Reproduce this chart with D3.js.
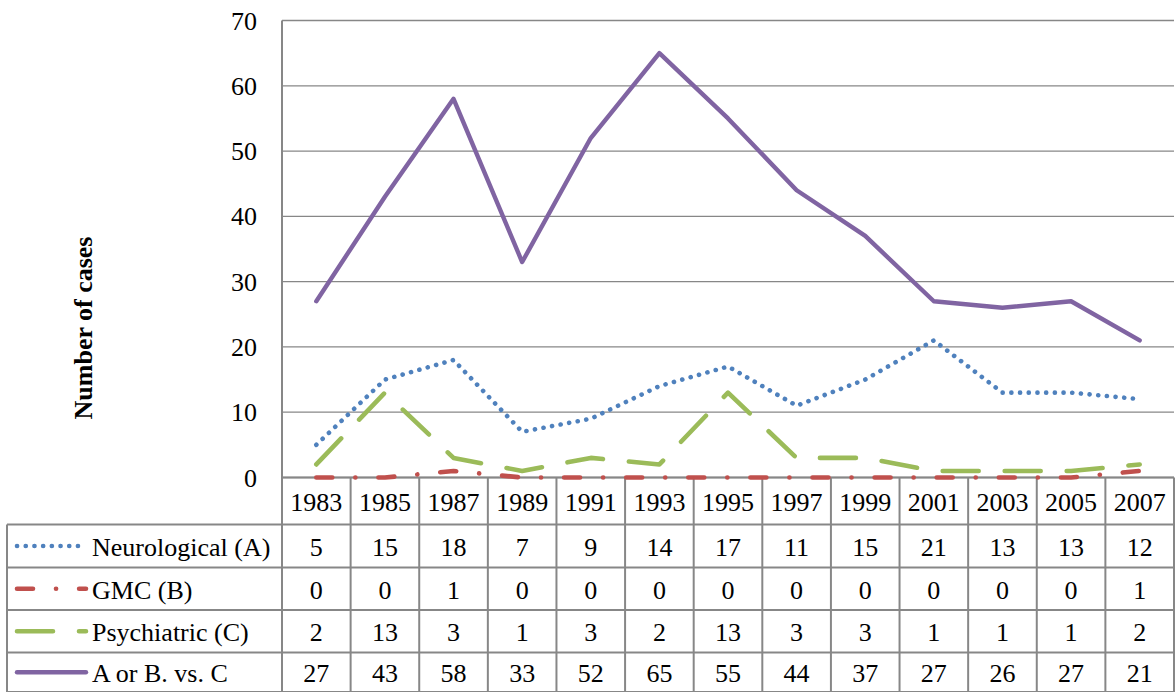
<!DOCTYPE html>
<html><head><meta charset="utf-8">
<script src="https://cdn.jsdelivr.net/npm/d3@7"></script>
<style>body{margin:0;background:#fff}svg{display:block}</style>
</head><body><svg id="c" width="1176" height="692"></svg>
<script>
const years = ["1983","1985","1987","1989","1991","1993","1995","1997","1999","2001","2003","2005","2007"];
const neurological = [5,15,18,7,9,14,17,11,15,21,13,13,12];
const gmc = [0,0,1,0,0,0,0,0,0,0,0,0,1];
const psychiatric = [2,13,3,1,3,2,13,3,3,1,1,1,2];
const aOrBvsC = [27,43,58,33,52,65,55,44,37,27,26,27,21];
const seriesNames = ["Neurological (A)","GMC (B)","Psychiatric (C)","A or B. vs. C"];
const yTicks = [0,10,20,30,40,50,60,70];

const series = [
  {name: seriesNames[0], values: neurological, color: "#4F81BD", dash: "0.1,8.6", width: 4.6},
  {name: seriesNames[1], values: gmc, color: "#C0504D", dash: "16,23,0.1,23", width: 4.6},
  {name: seriesNames[2], values: psychiatric, color: "#9BBB59", dash: "36,26", width: 4.6},
  {name: seriesNames[3], values: aOrBvsC, color: "#8064A2", dash: null, width: 4.4}
];

const FONT = "serif";
const fs = 26;
const svg = d3.select("#c");
const L = 282, R = 1174, T = 20.5, B = 477.5;
const x = d3.scaleBand().domain(years).range([L, R]);
const y = d3.scaleLinear().domain([0, 70]).range([B, T]);
const gridC = "#878787";

function txt(sel) {
  return sel.attr("font-family", FONT).attr("font-size", fs).attr("fill", "#000");
}

svg.append("g").selectAll("line").data(yTicks).join("line")
  .attr("x1", L).attr("x2", R).attr("y1", d => y(d)).attr("y2", d => y(d))
  .attr("stroke", gridC).attr("stroke-width", 1.3);
txt(svg.append("g").selectAll("text").data(yTicks).join("text")
  .attr("x", 257).attr("y", d => y(d)).attr("dy", "0.35em").attr("text-anchor", "end")).text(d => d);
txt(svg.append("text").attr("transform", `translate(83,328) rotate(-90)`)
  .attr("text-anchor", "middle").attr("dy", "0.35em").attr("font-weight", "bold"))
  .text("Number of cases");

const rowEdges = [477.5, 524.5, 567.5, 610, 652.5, 692];
const tblL = 7;
const tbl = svg.append("g");
tbl.append("line").attr("x1", L).attr("x2", L).attr("y1", T).attr("y2", 692).attr("stroke", gridC).attr("stroke-width", 2);
years.forEach(yr => {
  const xr = x(yr) + x.bandwidth();
  tbl.append("line").attr("x1", xr).attr("x2", xr).attr("y1", rowEdges[0]).attr("y2", 692).attr("stroke", gridC).attr("stroke-width", 2);
});
tbl.append("line").attr("x1", tblL).attr("x2", tblL).attr("y1", rowEdges[1]).attr("y2", 692).attr("stroke", gridC).attr("stroke-width", 2);
rowEdges.forEach((ry, i) => {
  tbl.append("line").attr("x1", i === 0 ? L : tblL).attr("x2", R).attr("y1", ry).attr("y2", ry)
    .attr("stroke", gridC).attr("stroke-width", 2);
});
txt(tbl.selectAll("text.yr").data(years).join("text").attr("class", "yr")
  .attr("x", d => x(d) + x.bandwidth() / 2).attr("y", (rowEdges[0] + rowEdges[1]) / 2 + 1)
  .attr("dy", "0.35em").attr("text-anchor", "middle")).text(d => d);

const line = d3.line().x((d, i) => x(years[i]) + x.bandwidth() / 2).y(d => y(d));
series.forEach((s, si) => {
  svg.append("path").datum(s.values).attr("d", line).attr("fill", "none")
    .attr("stroke", s.color).attr("stroke-width", s.width)
    .attr("stroke-linecap", "round").attr("stroke-linejoin", "round")
    .attr("stroke-dasharray", s.dash);
  const cy = (rowEdges[si + 1] + rowEdges[si + 2]) / 2;
  svg.append("line").attr("x1", 17).attr("x2", 86).attr("y1", cy).attr("y2", cy)
    .attr("stroke", s.color).attr("stroke-width", s.width)
    .attr("stroke-linecap", "round").attr("stroke-dasharray", s.dash);
  txt(svg.append("text").attr("x", 92).attr("y", cy + 1).attr("dy", "0.35em")).text(s.name);
  txt(svg.append("g").selectAll("text").data(s.values).join("text")
    .attr("x", (d, i) => x(years[i]) + x.bandwidth() / 2).attr("y", cy + 1).attr("dy", "0.35em")
    .attr("text-anchor", "middle")).text(d => d);
});
</script></body></html>
